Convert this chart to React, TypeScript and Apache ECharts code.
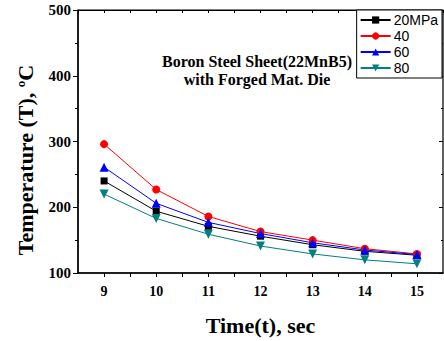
import React, { useEffect, useRef } from "react";
import * as echarts from "echarts";

const times = [9, 10, 11, 12, 13, 14, 15];
const s20 = [240, 194, 171, 156, 143, 133, 127];
const s40 = [296, 227, 186, 163, 150, 137, 129];
const s60 = [261, 206, 177, 160, 146, 135, 128];
const s80 = [220, 183, 159, 141, 129, 120, 114];
const seriesNames = ["20MPa", "40", "60", "80"];
const yTicks = [100, 200, 300, 400, 500];

export default function App() {
  const ref = useRef<HTMLDivElement>(null);
  useEffect(() => {
    const chart = echarts.init(ref.current!, null, { renderer: "svg" });
    const serif = "Liberation Serif";
    const mk = (name: string, data: number[], color: string, symbol: string, size: number) => ({
      name,
      type: "line",
      data: times.map((t, i) => [t, data[i]]),
      symbol,
      symbolSize: size,
      itemStyle: { color },
      lineStyle: { color, width: 1 },
    });
    chart.setOption({
      animation: false,
      grid: { left: 78, top: 10, right: 1, bottom: 63, show: true, borderColor: "#000", borderWidth: 1 },
      xAxis: [
        {
          type: "value",
          min: 8.5,
          max: 15.5,
          interval: 0.5,
          axisLine: { lineStyle: { color: "#000", width: 1.5 } },
          axisTick: { length: 4, lineStyle: { color: "#000" } },
          axisLabel: {
            formatter: (v: number) => (Number.isInteger(v) && v >= 9 && v <= 15 ? String(v) : ""),
            color: "#000",
            fontFamily: serif,
            fontWeight: "bold",
            fontSize: 14,
            margin: 11,
            showMinLabel: false,
            showMaxLabel: false,
          },
          splitLine: { show: false },
          name: "Time(t), sec",
          nameLocation: "middle",
          nameGap: 41,
          nameTextStyle: { color: "#000", fontFamily: serif, fontWeight: "bold", fontSize: 22 },
        },
        {
          type: "value",
          position: "top",
          min: 8.5,
          max: 15.5,
          interval: 0.5,
          axisLine: { show: true, lineStyle: { color: "#000" } },
          axisTick: { inside: true, length: 3, lineStyle: { color: "#000" } },
          axisLabel: { show: false },
          splitLine: { show: false },
        },
      ],
      yAxis: [
        {
          type: "value",
          min: yTicks[0],
          max: yTicks[yTicks.length - 1],
          interval: 100,
          axisLine: { show: true, lineStyle: { color: "#000", width: 1.5 } },
          axisTick: { show: true, length: 5, lineStyle: { color: "#000" } },
          minorTick: { show: true, splitNumber: 2, length: 3, lineStyle: { color: "#000" } },
          axisLabel: { color: "#000", fontFamily: serif, fontWeight: "bold", fontSize: 15, margin: 7 },
          splitLine: { show: false },
        },
        {
          type: "value",
          position: "right",
          min: 100,
          max: 500,
          interval: 100,
          axisLine: { show: true, lineStyle: { color: "#555", width: 1.5 } },
          axisTick: { show: true, inside: true, length: 4, lineStyle: { color: "#000" } },
          minorTick: { show: true, splitNumber: 2, length: 2, lineStyle: { color: "#000" } },
          axisLabel: { show: false },
          splitLine: { show: false },
        },
      ],
      legend: {
        orient: "vertical",
        right: 2,
        top: 10,
        data: seriesNames,
        backgroundColor: "#fff",
        borderColor: "#000",
        borderWidth: 1,
        borderRadius: 0,
        padding: [3, 4, 3, 3],
        itemGap: 2,
        itemWidth: 30,
        itemHeight: 9,
        textStyle: { fontFamily: "Liberation Sans", fontSize: 14, color: "#000", padding: [0, 0, 0, -2] },
      },
      graphic: [
        {
          type: "text",
          x: 257,
          y: 52,
          style: {
            text: "Boron Steel Sheet(22MnB5)\nwith Forged Mat. Die",
            fill: "#000",
            font: "bold 16px 'Liberation Serif'",
            align: "center",
            lineHeight: 18,
          },
        },
        {
          type: "text",
          x: 25,
          y: 160,
          rotation: Math.PI / 2,
          style: {
            text: "Temperature (T), {s|o}C",
            fill: "#000",
            font: "bold 22px 'Liberation Serif'",
            align: "center",
            verticalAlign: "middle",
            rich: {
              s: { fontSize: 13, fontWeight: "bold", fontFamily: serif, fill: "#000", verticalAlign: "top", padding: [0, 0, 10, 0] },
            },
          },
        },
      ],
      series: [
        mk(seriesNames[0], s20, "#000000", "rect", 7),
        mk(seriesNames[1], s40, "#ff0000", "circle", 8),
        mk(seriesNames[2], s60, "#0000ff", "triangle", 9),
        { ...mk(seriesNames[3], s80, "#008080", "triangle", 9), symbolRotate: 180 },
      ],
    });
    return () => chart.dispose();
  }, []);
  return <div ref={ref} style={{ width: 444, height: 341, position: "absolute", left: 0, top: 0 }} />;
}
